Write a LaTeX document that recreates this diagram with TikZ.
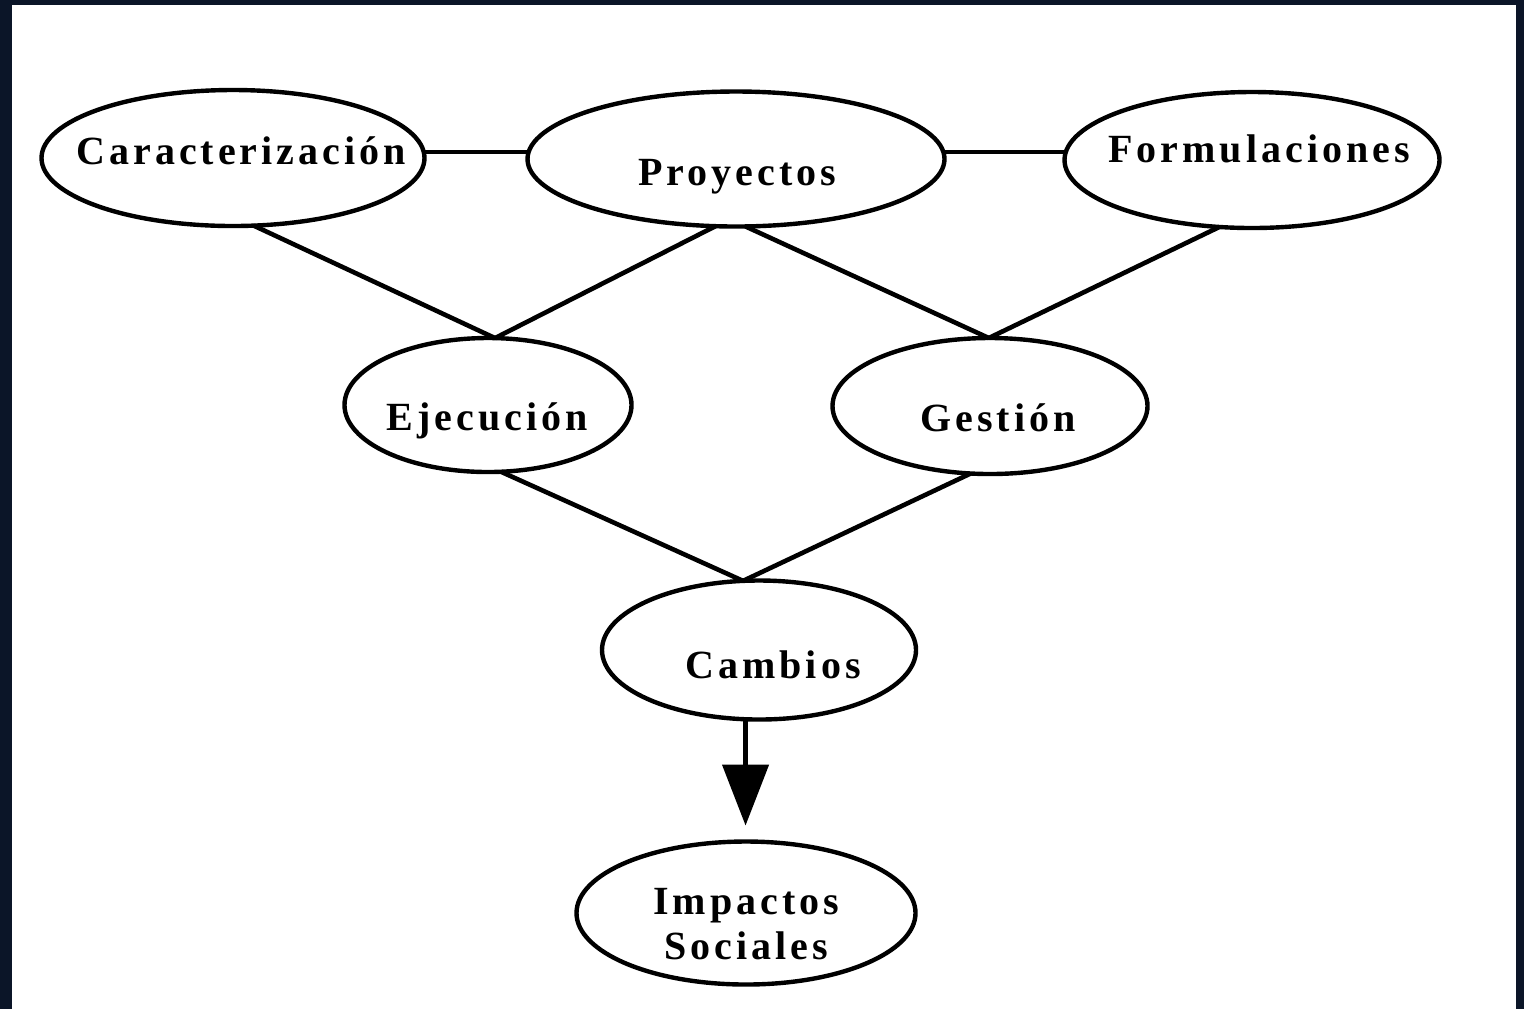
\documentclass[tikz,border=0pt]{standalone}
\usepackage{fontspec}
\setmainfont{Liberation Serif}[LetterSpace=10]
\usetikzlibrary{shapes.geometric,arrows.meta}
\definecolor{bgnavy}{HTML}{0B1528}
\begin{document}
\begin{tikzpicture}[x=0.5pt,y=-0.5pt,
  ell/.style={draw, ellipse, line width=2.2pt, inner sep=0pt, outer sep=0pt},
  lbl/.style={font=\bfseries\fontsize{20pt}{22.5pt}\selectfont, anchor=base, inner sep=0pt},
  conn/.style={line width=2.3pt}]
\useasboundingbox (0,0) rectangle (1524,1009);
\fill[bgnavy] (0,0) rectangle (1524,1009);
\fill[white] (12,5) rectangle (1516,1009);

\node[ell, minimum width=191.5pt, minimum height=68pt] (car) at (233,158) {};
\node[ell, minimum width=208.5pt, minimum height=67.5pt] (pro) at (736,159) {};
\node[ell, minimum width=187.5pt, minimum height=68pt] (for) at (1252,160) {};
\node[ell, minimum width=143.5pt, minimum height=67pt] (eje) at (488,405) {};
\node[ell, minimum width=157.5pt, minimum height=68pt] (ges) at (990,406) {};
\node[ell, minimum width=157pt, minimum height=69.5pt] (cam) at (759,650) {};
\node[ell, minimum width=169.5pt, minimum height=71.5pt] (imp) at (746,913) {};

\node[lbl] (tcar) at (241,164) {Caracterización};
\node[lbl] (tpro) at (737,185) {Proyectos};
\node[lbl] (tfor) at (1259,162) {Formulaciones};
\node[lbl] (teje) at (487,430) {Ejecución};
\node[lbl] (tges) at (998,431) {Gestión};
\node[lbl] (tcam) at (773,678) {Cambios};
\node[lbl, anchor=center, align=center] (timp) at (746,924) {Impactos\\Sociales};

\coordinate (row) at (0,152);
\draw[conn] (car.east |- row) -- (pro.west |- row);
\draw[conn] (pro.east |- row) -- (for.west |- row);
\draw[conn] (car.-73.6) -- (eje.84);
\draw[conn] (pro.-107.4) -- (eje.84);
\draw[conn] (pro.-82.3) -- (ges.91.7);
\draw[conn] (for.-116.6) -- (ges.91.7);
\draw[conn] (eje.-79.8) -- (cam.103.8);
\draw[conn] (ges.-106.4) -- (cam.103.8);
\draw[conn, -{Triangle[width=23pt,length=30.5pt]}, shorten >=8pt] (cam.-101.3) -- (cam.-101.3 |- imp.north);
\end{tikzpicture}
\end{document}
